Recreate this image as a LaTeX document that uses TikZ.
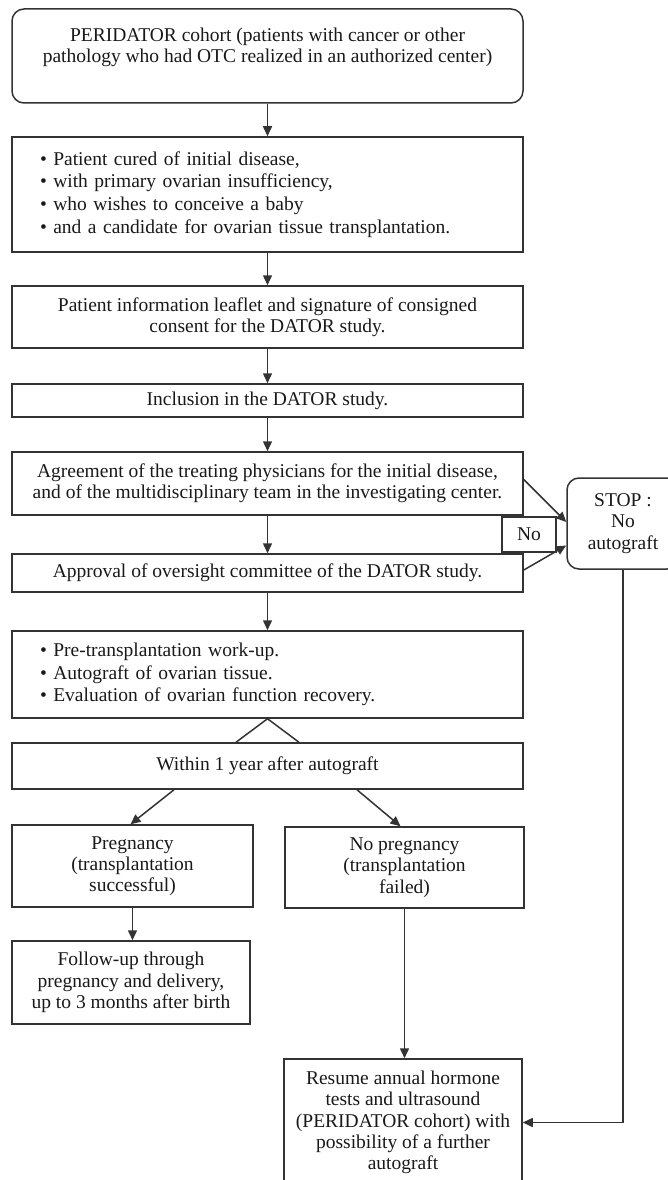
\documentclass[tikz,border=0pt]{standalone}
\usepackage{fontspec}
\setmainfont{Liberation Serif}
\usetikzlibrary{arrows.meta,calc}
\newcommand\diagfont{\fontsize{19.5}{21.3}\selectfont}
\newcommand\bulletfont{\fontsize{19.5}{22.6}\selectfont}
\begin{document}
\begin{tikzpicture}[x=1pt,y=-1pt,
  box/.style={draw=black!80, line width=1.5pt, minimum width=511pt, inner sep=0pt,
    align=center, font=\diagfont, text=black!90},
  bulletbox/.style={box, align=left, text width=455pt, inner xsep=28pt, font=\bulletfont},
  ln/.style={draw=black!80, line width=1.5pt},
  arr/.style={ln, -{Triangle[length=10pt,width=9pt]}}]
\useasboundingbox (0,0) rectangle (667,1180);

\node[box, rounded corners=12pt, minimum height=94pt] (b1) at (267.5,56)
  {PERIDATOR cohort (patients with cancer or other\\pathology who had OTC realized in an authorized center)\\\mbox{}};
\node[bulletbox, minimum height=115pt] (b2) at (267.5,194.5)
  {\textbullet\ Patient cured of initial disease,\\
   \textbullet\ with primary ovarian insufficiency,\\
   \textbullet\ who wishes to conceive a baby\\
   \textbullet\ and a candidate for ovarian tissue transplantation.};
\node[box, minimum height=62pt] (b3) at (267.5,317)
  {Patient information leaflet and signature of consigned\\consent for the DATOR study.};
\node[box, minimum height=33pt] (b4) at (267.5,400.5) {Inclusion in the DATOR study.};
\node[box, minimum height=63pt] (b5) at (267.5,483.5)
  {Agreement of the treating physicians for the initial disease,\\and of the multidisciplinary team in the investigating center.};
\node[box, minimum height=38pt] (b6) at (267.5,573) {Approval of oversight committee of the DATOR study.};
\node[box, minimum width=54pt, minimum height=35pt] (no) at (529,534.5) {No};
\node[box, rounded corners=12pt, minimum width=112pt, minimum height=91pt] (stop) at (623,523.5)
  {STOP :\\No\\autograft};
\node[bulletbox, minimum height=87pt] (b7) at (267.5,674.5)
  {\textbullet\ Pre-transplantation work-up.\\
   \textbullet\ Autograft of ovarian tissue.\\
   \textbullet\ Evaluation of ovarian function recovery.};
\node[box, minimum height=46pt] (b8) at (267.5,766) {Within 1 year after autograft};
\node[box, minimum width=241pt, minimum height=82pt] (preg) at (132.5,866)
  {Pregnancy\\(transplantation\\successful)};
\node[box, minimum width=239pt, minimum height=81pt] (nopreg) at (404.5,867.5)
  {No pregnancy\\(transplantation\\failed)};
\node[box, minimum width=238pt, minimum height=83pt] (follow) at (131,982.5)
  {Follow-up through\\pregnancy and delivery,\\up to 3 months after birth};
\node[box, minimum width=238pt, minimum height=127pt] (resume) at (403,1122.5)
  {Resume annual hormone\\tests and ultrasound\\(PERIDATOR cohort) with\\possibility of a further\\autograft};

\draw[arr] (b1) -- (b2);
\draw[arr] (b2) -- (b3);
\draw[arr] (b3) -- (b4);
\draw[arr] (b4) -- (b5);
\draw[arr] (b5) -- (b6);
\draw[arr] (b6) -- (b7);
\draw[arr] ([yshift=4pt]b5.east) -- ([yshift=1.5pt]stop.west);
\draw[arr] ([yshift=3pt]b6.east) -- ([yshift=-22pt]stop.west);
\draw[ln] (b7.south) -- ([xshift=-31.5pt]b8.north);
\draw[ln] (b7.south) -- ([xshift=31.5pt]b8.north);
\draw[arr] ([xshift=-93.5pt]b8.south) -- ([xshift=-2pt]preg.north);
\draw[arr] ([xshift=89.5pt]b8.south) -- ([xshift=-4pt]nopreg.north);
\draw[arr] (preg.south) -- (preg.south |- follow.north);
\draw[arr] (nopreg.south) -- (nopreg.south |- resume.north);
\draw[arr] (stop.south) |- (resume.east);
\end{tikzpicture}
\end{document}
